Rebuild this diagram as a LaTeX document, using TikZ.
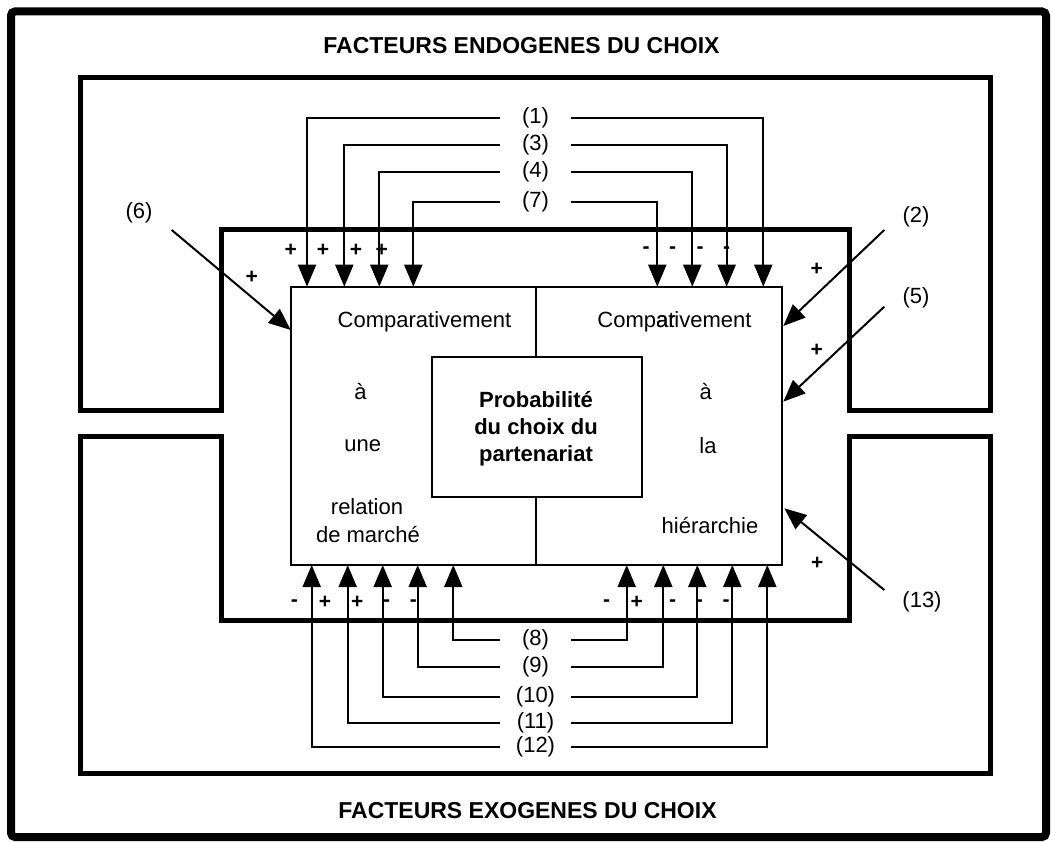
\documentclass[tikz,border=0pt]{standalone}
\usepackage{fontspec}
\setmainfont{Liberation Sans}
\usetikzlibrary{arrows.meta}
\begin{document}
\begin{tikzpicture}[x=1pt,y=-1pt,
  frame/.style={line width=8pt, rounded corners=4pt},
  ubox/.style={line width=5pt, line join=miter},
  cbox/.style={line width=2pt},
  conn/.style={line width=2pt, -{Triangle[width=18pt,length=22pt]}},
  lab/.style={inner sep=0pt, minimum width=71pt, font=\fontsize{22}{26}\selectfont},
  txt/.style={inner sep=0pt, font=\fontsize{22}{26}\selectfont},
  ttl/.style={inner sep=0pt, font=\bfseries\fontsize{23}{27}\selectfont},
  sgn/.style={inner sep=0pt, anchor=base, font=\bfseries\fontsize{21}{24}\selectfont},
]
\useasboundingbox (0,0) rectangle (1053,842);
\fill[white] (0,0) rectangle (1053,842);

% outer frame
\draw[frame] (11,11.5) rectangle (1046,837);

% titles
\node[ttl] (tEndo) at (521.5,46) {FACTEURS ENDOGENES DU CHOIX};
\node[ttl] (tExo) at (527.5,811) {FACTEURS EXOGENES DU CHOIX};

% U shapes
\draw[ubox] (80.5,77.5) -- (990,77.5) -- (990,410.5) -- (849.5,410.5) -- (849.5,229.5)
  -- (221,229.5) -- (221,410.5) -- (80.5,410.5) -- cycle;
\draw[ubox] (80.5,437) -- (221,437) -- (221,620) -- (849.5,620) -- (849.5,437)
  -- (990,437) -- (990,773) -- (80.5,773) -- cycle;

% main box
\draw[cbox,fill=white] (290.7,286.7) rectangle (782,565);
\node[cbox,draw,inner sep=0pt,anchor=north west,minimum width=210pt,minimum height=140pt] (inner) at (431,356) {};
\draw[cbox] (536,286.7) -- (inner.north -| 536,0);
\draw[cbox] (inner.south -| 536,0) -- (536,565);

\node[inner sep=0pt, align=center, font=\bfseries\fontsize{22}{27}\selectfont] (prob) at (536,428.5)
  {Probabilité\\du choix du\\partenariat};

% left column text
\node[txt] (cL) at (424.5,322) {Comparativement};
\node[txt] (aL) at (360.5,392) {à};
\node[txt] (uneL) at (362.7,446) {une};
\node[txt] (relL) at (367,507) {relation};
\node[txt] (mkL) at (368,535) {de marché};

% right column text
\node[txt] (cR) at (674.5,322) {Comp\rlap{ar}ativement};
\node[txt] (aR) at (705.7,392) {à};
\node[txt] (laR) at (708,446) {la};
\node[txt] (hiR) at (710,526) {hiérarchie};

% top labels
\node[lab] (l1) at (535.5,118) {(1)};
\node[lab] (l3) at (535.5,145) {(3)};
\node[lab] (l4) at (535.5,172) {(4)};
\node[lab] (l7) at (535.5,202) {(7)};

\draw[conn] (l1.west) -| (307,286.7);
\draw[conn] (l3.west) -| (344.3,286.7);
\draw[conn] (l4.west) -| (379.3,286.7);
\draw[conn] (l7.west) -| (413.3,286.7);
\draw[conn] (l1.east) -| (763.3,286.7);
\draw[conn] (l3.east) -| (726.7,286.7);
\draw[conn] (l4.east) -| (692.3,286.7);
\draw[conn] (l7.east) -| (657.3,286.7);

% bottom labels
\node[lab] (l8) at (535.5,640) {(8)};
\node[lab] (l9) at (535.5,667) {(9)};
\node[lab] (l10) at (535.5,696.5) {(10)};
\node[lab] (l11) at (535.5,723.3) {(11)};
\node[lab] (l12) at (535.5,747) {(12)};

\draw[conn] (l8.west) -| (453.3,565);
\draw[conn] (l9.west) -| (417.7,565);
\draw[conn] (l10.west) -| (382.7,565);
\draw[conn] (l11.west) -| (347.7,565);
\draw[conn] (l12.west) -| (311.7,565);
\draw[conn] (l8.east) -| (626.7,565);
\draw[conn] (l9.east) -| (663.3,565);
\draw[conn] (l10.east) -| (697.3,565);
\draw[conn] (l11.east) -| (732.3,565);
\draw[conn] (l12.east) -| (767.3,565);

% diagonal arrows
\node[txt] (l6) at (139,213) {(6)};
\node[txt] (l2) at (916,217) {(2)};
\node[txt] (l5) at (916,298) {(5)};
\node[txt] (l13) at (922,602) {(13)};
\coordinate (s6) at (171.7,230);
\coordinate (s2) at (884.3,230);
\coordinate (s5) at (884.3,306.7);
\coordinate (s13) at (884.3,590);
\draw[conn] (s6) -- (290.7,330);
\draw[conn] (s2) -- (783.3,326);
\draw[conn] (s5) -- (783.3,401.7);
\draw[conn] (s13) -- (784.3,508.3);

% signs top
\node[sgn] (p1) at (290.7,256.4) {+};
\node[sgn] (p2) at (323,256.4) {+};
\node[sgn] (p3) at (356,256.4) {+};
\node[sgn] (p4) at (381.7,256.4) {+};
\node[sgn] (p5) at (251.7,283.9) {+};
\node[sgn] (m1) at (646,253.6) {-};
\node[sgn] (m2) at (672.7,253.6) {-};
\node[sgn] (m3) at (700,253.6) {-};
\node[sgn] (m4) at (726.7,253.6) {-};
\node[sgn] (p6) at (816.7,275.7) {+};
\node[sgn] (p7) at (816.7,356.7) {+};

% signs bottom
\node[sgn] (m5) at (294.3,606.6) {-};
\node[sgn] (p8) at (325,608.4) {+};
\node[sgn] (p9) at (357.3,608.4) {+};
\node[sgn] (m6) at (386.7,606.6) {-};
\node[sgn] (m7) at (413.3,606.6) {-};
\node[sgn] (m8) at (606.7,606.6) {-};
\node[sgn] (p10) at (636.7,608.4) {+};
\node[sgn] (m9) at (672.7,606.6) {-};
\node[sgn] (m10) at (699.3,606.6) {-};
\node[sgn] (m11) at (726,606.6) {-};
\node[sgn] (p11) at (817.3,569.1) {+};
\end{tikzpicture}
\end{document}
